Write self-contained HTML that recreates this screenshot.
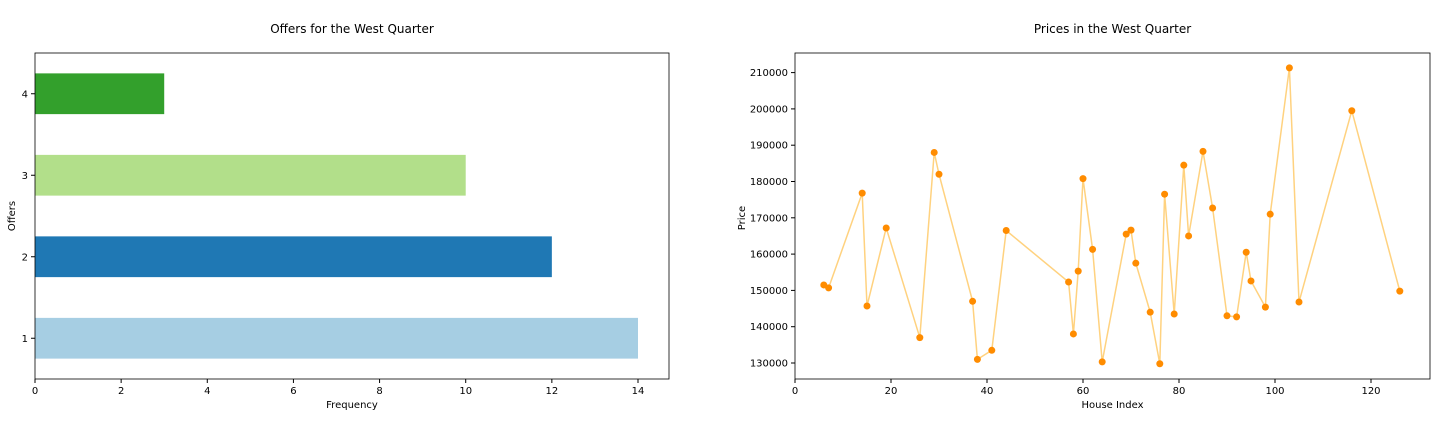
<!DOCTYPE html>
<html><head><meta charset="utf-8"><style>
body{margin:0;background:#fff;font-family:"Liberation Sans","DejaVu Sans",sans-serif;}
svg text{font-family:"DejaVu Sans","Liberation Sans",sans-serif;}
</style></head><body>
<svg id="c" width="1436" height="417"></svg>
<script>
const offerCats=[1,2,3,4];
const offerFreq=[14,12,10,3];
const offerColors=['#a6cee3','#1f78b4','#b2df8a','#33a02c'];
const freqTicks=[0,2,4,6,8,10,12,14];
const houseIdx=[6,7,14,15,19,26,29,30,37,38,41,44,57,58,59,60,62,64,69,70,71,74,76,77,79,81,82,85,87,90,92,94,95,98,99,103,105,116,126];
const prices=[151500,150700,176800,145700,167200,137000,188000,182000,147000,131000,133500,166500,152300,138000,155300,180800,161300,130300,165500,166600,157500,144000,129800,176500,143500,184500,165000,188300,172700,143000,142700,160500,152600,145400,171000,211300,146800,199500,149800];
const idxTicks=[0,20,40,60,80,100,120];
const priceTicks=[130000,140000,150000,160000,170000,180000,190000,200000,210000];
const NS='http://www.w3.org/2000/svg';
const svg=document.getElementById('c');
function mk(t,a,txt,p){const e=document.createElementNS(NS,t);for(const k in a)e.setAttribute(k,a[k]);if(txt!=null)e.textContent=txt;(p||svg).appendChild(e);return e;}
// left chart
const L={x0:35,x1:669,y0:53,y1:379};
const fx=v=>L.x0+v*(L.x1-L.x0)/14.72;
const band=(L.y1-L.y0)/4;
const fy=c=>L.y1-(c-0.5)*band;
const g1=mk('g',{});
offerCats.forEach((c,i)=>{const r=mk('rect',{x:fx(0),y:fy(c)-band/4,width:fx(offerFreq[i])-fx(0),height:band/2,fill:offerColors[i]},null,g1);

mk('line',{x1:L.x0,x2:L.x0-4,y1:fy(c),y2:fy(c),stroke:'#000'},null,g1);
const t=mk('text',{x:L.x0-7,y:fy(c)+3.5,'font-size':10,'text-anchor':'end'},String(c),g1);});
freqTicks.forEach(v=>{mk('line',{x1:fx(v),x2:fx(v),y1:L.y1,y2:L.y1+4,stroke:'#000'},null,g1);
const t=mk('text',{x:fx(v),y:L.y1+15,'font-size':10,'text-anchor':'middle'},String(v),g1);});
mk('rect',{x:L.x0,y:L.y0,width:L.x1-L.x0,height:L.y1-L.y0,fill:'none',stroke:'#000','stroke-width':0.8},null,g1);
let t=mk('text',{x:(L.x0+L.x1)/2,y:33,'font-size':12,'text-anchor':'middle'},'Offers for the West Quarter',g1);
t=mk('text',{x:(L.x0+L.x1)/2,y:408,'font-size':10,'text-anchor':'middle'},'Frequency',g1);
t=mk('text',{x:15,y:216,'font-size':10,'text-anchor':'middle',transform:'rotate(-90 15 216)'},'Offers',g1);
// right chart
const R={x0:795,x1:1430,y0:53,y1:379};
const gx=v=>R.x0+v*4.8;
const gy=v=>363-(v-130000)*36.3/10000;
const g2=mk('g',{});
const pl=mk('polyline',{points:houseIdx.map((x,i)=>gx(x)+','+gy(prices[i])).join(' '),fill:'none',stroke:'#ffa500','stroke-opacity':0.5,'stroke-width':1.5},null,g2);

houseIdx.forEach((x,i)=>{const c=mk('circle',{cx:gx(x),cy:gy(prices[i]),r:3.5,fill:'#ff8c00'},null,g2);});
idxTicks.forEach(v=>{mk('line',{x1:gx(v),x2:gx(v),y1:R.y1,y2:R.y1+4,stroke:'#000'},null,g2);
const t=mk('text',{x:gx(v),y:R.y1+15,'font-size':10,'text-anchor':'middle'},String(v),g2);});
priceTicks.forEach(v=>{mk('line',{x1:R.x0,x2:R.x0-4,y1:gy(v),y2:gy(v),stroke:'#000'},null,g2);
const t=mk('text',{x:R.x0-7,y:gy(v)+3.5,'font-size':10,'text-anchor':'end'},String(v),g2);});
mk('rect',{x:R.x0,y:R.y0,width:R.x1-R.x0,height:R.y1-R.y0,fill:'none',stroke:'#000','stroke-width':0.8},null,g2);
t=mk('text',{x:(R.x0+R.x1)/2,y:33,'font-size':12,'text-anchor':'middle'},'Prices in the West Quarter',g2);
t=mk('text',{x:(R.x0+R.x1)/2,y:408,'font-size':10,'text-anchor':'middle'},'House Index',g2);
t=mk('text',{x:745,y:218,'font-size':10,'text-anchor':'middle',transform:'rotate(-90 745 218)'},'Price',g2);
</script>
</body></html>
